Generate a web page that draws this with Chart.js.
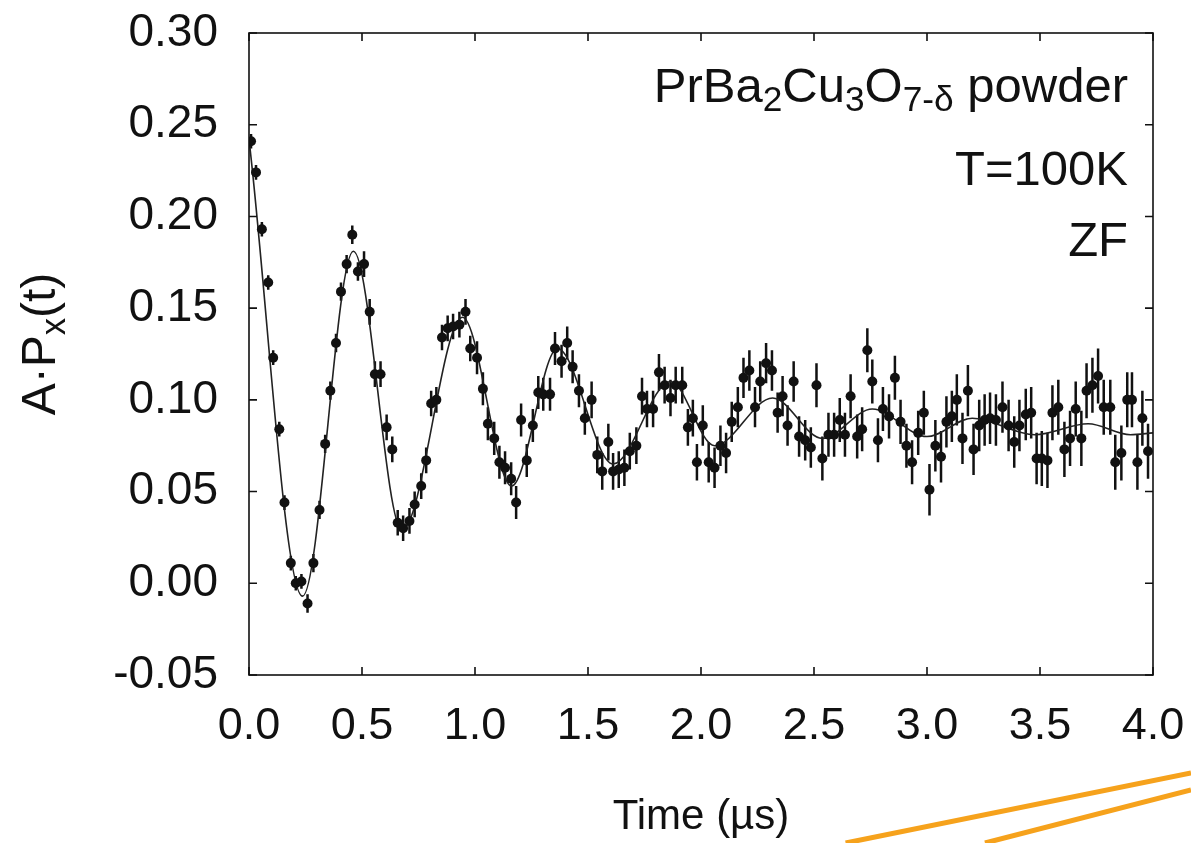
<!DOCTYPE html>
<html>
<head>
<meta charset="utf-8">
<script src="https://cdn.jsdelivr.net/npm/chart.js@4.4.1/dist/chart.umd.min.js"></script>
<style>
  html, body { margin: 0; padding: 0; background: #fff; }
  #wrap { width: 1191px; height: 843px; }
</style>
</head>
<body>
<div id="wrap"><canvas id="muonChart" width="1191" height="843"></canvas></div>
<script>
// measured asymmetry points (time in µs, A·Px)
const pointTimes = [
  0.009, 0.031, 0.057, 0.085, 0.107, 0.134, 0.157, 0.185, 0.207, 0.232,
  0.259, 0.285, 0.312, 0.337, 0.360, 0.385, 0.407, 0.432, 0.457, 0.482,
  0.509, 0.534, 0.557, 0.582, 0.609, 0.634, 0.658, 0.682, 0.710, 0.733,
  0.762, 0.784, 0.806, 0.829, 0.854, 0.879, 0.903, 0.931, 0.958, 0.979,
  1.009, 1.035, 1.057, 1.085, 1.108, 1.133, 1.160, 1.182, 1.204, 1.229,
  1.256, 1.280, 1.302, 1.332, 1.354, 1.383, 1.408, 1.432, 1.460, 1.486,
  1.516, 1.541, 1.563, 1.590, 1.611, 1.636, 1.661, 1.685, 1.714, 1.739,
  1.761, 1.788, 1.814, 1.839, 1.865, 1.888, 1.917, 1.942, 1.964, 1.982,
  2.008, 2.034, 2.060, 2.086, 2.111, 2.136, 2.163, 2.188, 2.214, 2.239,
  2.262, 2.288, 2.314, 2.339, 2.361, 2.383, 2.410, 2.434, 2.461, 2.486,
  2.511, 2.537, 2.564, 2.589, 2.614, 2.637, 2.662, 2.691, 2.713, 2.736,
  2.758, 2.783, 2.805, 2.832, 2.858, 2.883, 2.909, 2.934, 2.961, 2.986,
  3.011, 3.037, 3.062, 3.086, 3.110, 3.132, 3.157, 3.181, 3.206, 3.231,
  3.255, 3.279, 3.305, 3.334, 3.361, 3.386, 3.409, 3.437, 3.461, 3.485,
  3.508, 3.533, 3.555, 3.581, 3.608, 3.633, 3.658, 3.683, 3.706, 3.732,
  3.757, 3.782, 3.811, 3.833, 3.860, 3.886, 3.907, 3.931, 3.953, 3.978
];
const pointValues = [
  0.241, 0.224, 0.193, 0.164, 0.123, 0.084, 0.044, 0.011, 0.000, 0.001,
  -0.011, 0.011, 0.040, 0.076, 0.105, 0.131, 0.159, 0.174, 0.190, 0.170,
  0.174, 0.148, 0.114, 0.114, 0.085, 0.073, 0.033, 0.030, 0.034, 0.043,
  0.053, 0.067, 0.098, 0.100, 0.134, 0.139, 0.140, 0.141, 0.148, 0.128,
  0.123, 0.106, 0.087, 0.079, 0.066, 0.063, 0.057, 0.044, 0.089, 0.067,
  0.086, 0.104, 0.103, 0.103, 0.128, 0.121, 0.131, 0.118, 0.105, 0.090,
  0.100, 0.070, 0.061, 0.077, 0.061, 0.062, 0.063, 0.072, 0.075, 0.102,
  0.095, 0.095, 0.115, 0.108, 0.101, 0.108, 0.108, 0.085, 0.090, 0.066,
  0.086, 0.066, 0.063, 0.075, 0.071, 0.088, 0.096, 0.112, 0.116, 0.096,
  0.110, 0.120, 0.116, 0.093, 0.102, 0.086, 0.110, 0.080, 0.078, 0.074,
  0.108, 0.068, 0.081, 0.081, 0.089, 0.081, 0.102, 0.080, 0.084, 0.127,
  0.110, 0.078, 0.095, 0.091, 0.112, 0.088, 0.075, 0.066, 0.082, 0.093,
  0.051, 0.075, 0.069, 0.088, 0.091, 0.100, 0.079, 0.105, 0.073, 0.086,
  0.089, 0.090, 0.089, 0.096, 0.086, 0.077, 0.086, 0.092, 0.093, 0.068,
  0.068, 0.067, 0.093, 0.096, 0.073, 0.079, 0.095, 0.079, 0.105, 0.108,
  0.113, 0.096, 0.096, 0.066, 0.071, 0.100, 0.100, 0.066, 0.090, 0.072
];
// error bar half-size, read per time range
const errRangeEnd = [0.25, 0.5, 1.0, 1.5, 2.0, 2.5, 3.0, 3.5, 4.1];
const errSize     = [0.004, 0.005, 0.007, 0.009, 0.010, 0.011, 0.012, 0.014, 0.015];

// fit curve, read at its turning points
const fitTimes  = [0, 0.237, 0.462, 0.677, 0.945, 1.162, 1.365, 1.611, 1.865, 2.06, 2.317, 2.537, 2.758, 3.0, 3.2, 3.477, 3.713, 3.9, 4.0];
const fitValues = [0.242, -0.007, 0.181, 0.029, 0.145, 0.053, 0.128, 0.065, 0.110, 0.075, 0.101, 0.079, 0.095, 0.080, 0.090, 0.081, 0.087, 0.081, 0.082];

const xTickStep = 0.5;
const yTickStep = 0.05;

const FONT = "'Liberation Sans', Arial, Helvetica, sans-serif";

function errFor(t) {
    for (let i = 0; i < errRangeEnd.length; i++) {
        if (t < errRangeEnd[i]) return errSize[i];
    }
    return errSize[errSize.length - 1];
}

const points = pointTimes.map((t, i) => ({x: t, y: pointValues[i], err: errFor(t)}));
const fitLine = fitTimes.map((t, i) => ({x: t, y: fitValues[i]}));

// draw text made of pieces, some lowered as subscripts
function drawPieces(ctx, pieces, size, x, y, alignRight) {
    const widths = pieces.map(p => {
        ctx.font = (p.sub ? size * 0.72 : size) + 'px ' + FONT;
        return ctx.measureText(p.t).width;
    });
    const total = widths.reduce((a, b) => a + b, 0);
    let cx = alignRight ? x - total : x;
    pieces.forEach((p, i) => {
        ctx.font = (p.sub ? size * 0.72 : size) + 'px ' + FONT;
        ctx.fillText(p.t, cx, p.sub ? y + size * 0.28 : y);
        cx += widths[i];
    });
    return total;
}

const errorBars = {
    id: 'errorBars',
    beforeDatasetsDraw(chart) {
        const {ctx, scales: {x, y}} = chart;
        ctx.save();
        ctx.strokeStyle = '#111';
        ctx.lineWidth = 2.5;
        ctx.beginPath();
        points.forEach(p => {
            const px = x.getPixelForValue(p.x);
            ctx.moveTo(px, y.getPixelForValue(p.y + p.err));
            ctx.lineTo(px, y.getPixelForValue(p.y - p.err));
        });
        ctx.stroke();
        ctx.restore();
    }
};

const frameAndText = {
    id: 'frameAndText',
    afterDraw(chart) {
        const {ctx, chartArea: a, scales: {x, y}} = chart;
        ctx.save();
        // box
        ctx.strokeStyle = '#111';
        ctx.lineWidth = 1.6;
        ctx.strokeRect(a.left, a.top, a.right - a.left, a.bottom - a.top);
        // inward ticks on all four sides
        const tl = 8;
        ctx.beginPath();
        y.ticks.forEach(t => {
            const py = y.getPixelForValue(t.value);
            ctx.moveTo(a.left, py); ctx.lineTo(a.left + tl, py);
            ctx.moveTo(a.right, py); ctx.lineTo(a.right - tl, py);
        });
        x.ticks.forEach(t => {
            const px = x.getPixelForValue(t.value);
            ctx.moveTo(px, a.bottom); ctx.lineTo(px, a.bottom - tl);
            ctx.moveTo(px, a.top); ctx.lineTo(px, a.top + tl);
        });
        ctx.stroke();

        // y axis title, rotated, with subscript x
        ctx.fillStyle = '#111';
        ctx.textBaseline = 'middle';
        ctx.textAlign = 'left';
        ctx.save();
        ctx.translate(42, 344);
        ctx.rotate(-Math.PI / 2);
        const titleSize = 48;
        const titlePieces = [{t: 'A·P'}, {t: 'x', sub: true}, {t: '(t)'}];
        let w = 0;
        titlePieces.forEach(p => {
            ctx.font = (p.sub ? titleSize * 0.72 : titleSize) + 'px ' + FONT;
            w += ctx.measureText(p.t).width;
        });
        drawPieces(ctx, titlePieces, titleSize, -w / 2, 0, false);
        ctx.restore();

        // sample notes, right aligned inside the box
        const rightEdge = a.right - 25;
        drawPieces(ctx, [
            {t: 'PrBa'}, {t: '2', sub: true}, {t: 'Cu'}, {t: '3', sub: true},
            {t: 'O'}, {t: '7-δ', sub: true}, {t: ' powder'}
        ], 49, rightEdge, 88, true);
        drawPieces(ctx, [{t: 'T=100K'}], 49, rightEdge, 171, true);
        drawPieces(ctx, [{t: 'ZF'}], 49, rightEdge, 242, true);

        // orange slide decoration at lower right
        ctx.strokeStyle = '#F6A21C';
        ctx.lineWidth = 5;
        ctx.beginPath();
        ctx.moveTo(chart.width * 0.710, chart.height);
        ctx.lineTo(chart.width, chart.height * 0.917);
        ctx.moveTo(chart.width * 0.827, chart.height);
        ctx.lineTo(chart.width, chart.height * 0.937);
        ctx.stroke();
        ctx.restore();
    }
};

// tick marks themselves are drawn by the plugin; these hidden ones only space the labels
const hiddenTicks = len => ({
    display: true,
    drawOnChartArea: false,
    drawTicks: true,
    tickLength: len,
    tickColor: 'rgba(0,0,0,0)'
});

const ctx = document.getElementById('muonChart');
new Chart(ctx, {
    type: 'scatter',
    data: {
        datasets: [{
            label: 'data',
            data: points,
            pointRadius: 5,
            pointHoverRadius: 5,
            pointBackgroundColor: '#111',
            pointBorderWidth: 0
        }, {
            label: 'fit',
            data: fitLine,
            showLine: true,
            pointRadius: 0,
            borderColor: '#222',
            borderWidth: 1.6,
            cubicInterpolationMode: 'monotone'
        }]
    },
    options: {
        responsive: false,
        animation: false,
        events: [],
        layout: {padding: {top: 33, right: 38, left: 0, bottom: 0}},
        plugins: {legend: {display: false}, tooltip: {enabled: false}},
        scales: {
            x: {
                type: 'linear',
                min: 0,
                max: 4,
                grid: hiddenTicks(25),
                border: {display: false},
                ticks: {
                    stepSize: xTickStep,
                    padding: 0,
                    color: '#111',
                    font: {family: FONT, size: 45},
                    maxRotation: 0,
                    callback: v => v.toFixed(1)
                },
                title: {
                    display: true,
                    text: 'Time (µs)',
                    color: '#111',
                    font: {family: FONT, size: 42},
                    padding: {top: 4, bottom: 0}
                },
                afterFit: s => { s.height = 168; }
            },
            y: {
                min: -0.05,
                max: 0.30,
                grid: hiddenTicks(31),
                border: {display: false},
                ticks: {
                    stepSize: yTickStep,
                    padding: 0,
                    color: '#111',
                    font: {family: FONT, size: 46},
                    callback: v => (Math.abs(v) < 1e-9 ? 0 : v).toFixed(2)
                },
                afterFit: s => { s.width = 249; }
            }
        }
    },
    plugins: [errorBars, frameAndText]
});
</script>
</body>
</html>
